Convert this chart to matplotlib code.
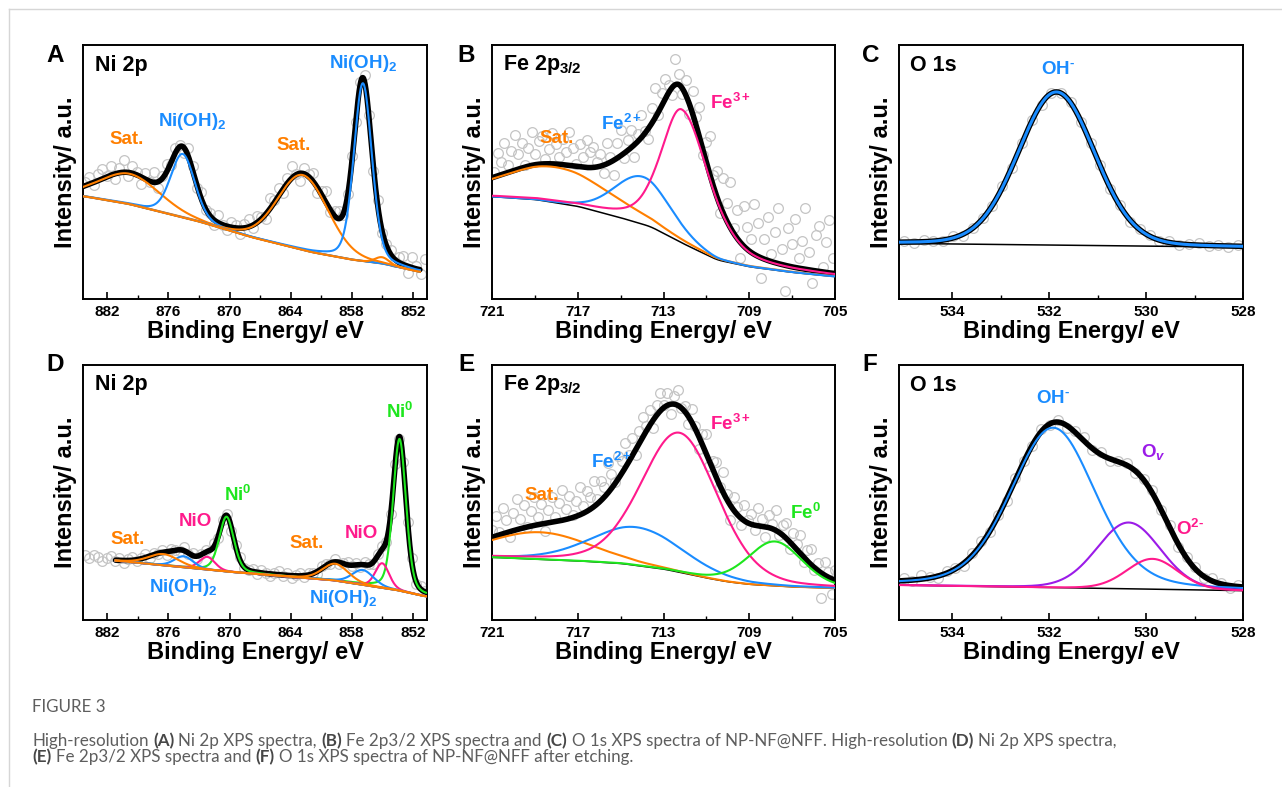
import numpy as np
import matplotlib
matplotlib.use("Agg")
import matplotlib.pyplot as plt
from matplotlib.lines import Line2D
from matplotlib.ticker import FixedLocator

plt.rcParams["font.family"] = ["Liberation Sans", "DejaVu Sans"]
plt.rcParams["mathtext.fontset"] = "custom"
plt.rcParams["mathtext.rm"] = "Liberation Sans:bold"
plt.rcParams["mathtext.bf"] = "Liberation Sans:bold"
plt.rcParams["mathtext.it"] = "Liberation Sans:bold:italic"

# ---- data (intensity in % of axis height) ----
# A: Ni 2p (NP-NF@NFF)
A_ticks = [882, 876, 870, 864, 858, 852]
A_bg_e = [884.4, 880, 873, 868, 862, 858, 855, 850.6]
A_bg_v = [40.5, 37.5, 30.5, 24.5, 18.5, 15.5, 14.0, 10.0]
A_centers = [879.8, 874.6, 862.8, 856.9, 855.0]
A_heights = [12, 25, 29.5, 70, 2.5]
A_fwhm = [7.0, 2.8, 5.8, 2.1, 1.6]
A_eta = [0.1, 0.2, 0.1, 0.25, 0.0]
A_species = ["sat", "oh", "sat", "oh", "sat"]
A_noise = [1.5, 3.0, -1.0, 2.5, 4.0, 0.5, 3.5, -2.0, 2.0, 5.0,
           -1.5, 3.0, 1.0, -3.0, 2.5, -0.5, 4.0, -2.5, 1.0, 3.0,
           -1.0, 2.0, 0.5, -2.0, 3.5, 1.5, -1.0, 2.5, -0.5, 1.0,
           -2.0, 3.0, 0.0, -1.5, 2.0, 1.0, -2.5, 1.5, 3.0, -1.0,
           2.5, 0.5, -2.0, 4.0, 1.0, 3.0, -1.5, 2.0, 5.0, 0.5,
           -3.0, 2.5, 1.0, 3.5, -2.0, 1.5, 4.5, -1.0, 2.0, 3.0,
           -0.5, 1.0, 2.5, -1.5, 0.5, 3.0, 1.0, -2.0, 2.0, -1.0,
           0.5, 1.5, -1.0, 2.0, 3.5, -2.5, 4.0, 1.0, -1.5, 5.0]

# B: Fe 2p3/2 (NP-NF@NFF)
B_ticks = [721, 717, 713, 709, 705]
B_bg_e = [721, 719, 717, 715, 713.6, 712.1, 710.5, 709, 707, 705]
B_bg_v = [40.3, 39.2, 36.5, 32, 28.5, 21.9, 15.4, 12.7, 10.5, 8.8]
B_centers = [718.0, 713.97, 712.15]
B_heights = [14, 18.7, 52.5]
B_fwhm = [6.0, 3.1, 2.3]
B_eta = [0.2, 0.1, 0.45]
B_asym = [1.0, 1.0, 1.3]
B_species = ["sat", "fe2", "fe3"]
B_noise = [2, 9, 5, 12, 3, 8, 14, 6, 10, 1, 7, 13, 4, 9, 11, 2, 6, 12, 8, 3,
           10, 5, 13, 7, 1, 9, 4, 11, 6, 8, 2,
           5, -3, 8, 2, -6, 6, 10, -2, 4, 7, -5, 3, 9, 1, -4, 6, 12, -1, 5, 8,
           3, -3, 10, 4, -2,
           6, -4, 9, 3, 12, -2, 8, 15, 4, 10, -3, 14, 7, 18, 2, 11, -6, 16, 9, 5,
           20, 13, -8, 8, 17, 3, 12, 22, 6, -10, 15, 9, 19, 4, 11, 24, 7, -5, 14, 18,
           2, 12, 21, 6]

# C: O 1s (NP-NF@NFF)
C_ticks = [534, 532, 530, 528]
C_bg_e = [535.1, 528]
C_bg_v = [21.9, 20.4]
C_centers = [531.85]
C_heights = [60.3]
C_fwhm = [1.86]
C_eta = [0.1]
C_species = ["oh"]
C_noise = [0.3, -0.5, 0.6, 0.1, -0.3, 0.8, -0.6, 0.2, 0.5, -0.2, 0.7, -0.4,
           0.1, 0.6, -0.7, 0.3, -0.1, 0.5, -0.5, 0.2, 0.8, -0.3, 0.4, -0.6,
           0.1, 0.6, -0.2, 0.4, -0.5, 0.3, 0.7, -0.1, 0.2, -0.4, 0.5]

# D: Ni 2p after etching
D_bg_e = [884.4, 881.2, 870, 860, 853.6, 850.7]
D_bg_v = [24.8, 23.3, 18.9, 15.7, 11.8, 9.2]
D_centers = [853.3, 870.3, 855.0, 872.2, 856.9, 874.5, 859.6, 876.5]
D_heights = [59.5, 21.5, 9.6, 5.0, 5.8, 4.3, 6.6, 4.4]
D_fwhm = [1.5, 1.7, 1.6, 1.8, 2.5, 2.2, 3.0, 3.5]
D_eta = [0.3, 0.3, 0.2, 0.2, 0.2, 0.2, 0.2, 0.2]
D_species = ["ni0", "ni0", "nio", "nio", "oh", "oh", "sat", "sat"]
D_noise = [0.8, -0.5, 1.2, 0.3, -1.0, 0.6, 1.5, -0.4, 0.9, -1.2,
           0.4, 1.1, -0.7, 0.2, 1.4, -0.9, 0.5, -0.3, 1.0, -1.1,
           0.7, 0.1, -0.6, 1.3, -0.2, 0.8, -1.0, 0.4, 0.9, -0.5,
           1.2, -0.8, 0.3, 0.6, -1.3, 0.5, 1.0, -0.4, 0.2, 0.9,
           -0.7, 1.1, 0.3, -0.9, 0.6, 1.4, -0.2, 0.8, -1.1, 0.4,
           1.0, -0.6, 0.7, 0.2, -1.2, 0.9, 0.5, -0.3, 1.3, -0.8,
           0.4, 1.0, -0.5, 0.6, -1.0, 1.2, 0.3, -0.7, 0.8, 1.5,
           -0.4, 0.9, 2.0, -1.0, 1.6, 0.5, 2.2, -0.8, 1.2, 0.6]

# E: Fe 2p3/2 after etching
E_bg_e = [721, 717, 715, 713, 712, 711, 710, 709, 707, 705]
E_bg_v = [24.6, 23.2, 22.2, 20, 18.3, 16.5, 15, 14, 13, 12.5]
E_centers = [718.76, 714.25, 712.25, 707.8]
E_heights = [10.6, 15, 54.7, 17.4]
E_fwhm = [5.6, 5.0, 4.2, 3.0]
E_eta = [0.1, 0.2, 0.2, 0.2]
E_species = ["sat", "fe2", "fe3", "fe0"]
E_noise = [3, 8, 1, 10, 5, -2, 7, 12, 4, 9, 0, 6, 11, 3, 8, -3, 5, 10, 2, 7,
           12, 4, 9, 1, 6, 11, 3, 8, 5, 10, 2,
           8, 4, 12, 6, 1, 9, 5, 10, 3, 7, -2, 5, 8, 2, 6, -3, 4, 7, 1,
           5, -4, 3, 6, 0,
           2, -3, 5, 1, -5, 4, 7, -2, 3, 6, -1, 8, 2, -6, 5, 3, -3, 6, 1, 4,
           -2, 7, 3, -4, 5, 2, 8, -1, 4, 6, -3, 5, 2, 7, -2, 4, 6, -1, 3, -10,
           5, 2, -6, 4]

# F: O 1s after etching
F_bg_e = [535.1, 528]
F_bg_v = [13.7, 11.5]
F_centers = [531.92, 530.36, 529.87]
F_heights = [62.7, 26, 11.9]
F_fwhm = [2.06, 1.55, 1.25]
F_eta = [0.25, 0.1, 0.1]
F_species = ["oh", "ov", "o2"]
F_noise = [1.2, -0.5, 1.5, 0.4, -0.8, 1.0, 0.2, -1.2, 0.8, 1.4,
           -0.3, 0.6, -1.0, 0.9, 0.3, -0.6, 1.1, -0.2, 0.7, -1.1,
           0.5, 1.3, -0.4, 0.8, -0.9, 0.2, 1.0, -0.7, 0.6, 1.2,
           -0.3, 0.9, -1.0, 0.4, 0.7, -0.5, 1.1, 0.3, -0.8, 0.5]

colors = {"sat": "#FF7F00", "oh": "#1A8CFF", "fe2": "#1A8CFF", "fe3": "#FF1A8C",
          "nio": "#FF1A8C", "o2": "#FF1A8C", "ni0": "#1EE61E", "fe0": "#1EE61E",
          "ov": "#9B1BE8"}

W, H = 1282, 787
fig = plt.figure(figsize=(W / 100, H / 100), dpi=100)


def pv(x, c, h, w, eta, asym=1.0):
    # pseudo-Voigt; asym widens the low binding energy side
    w = np.where(x < c, w * asym, w)
    d = (x - c) / w
    return h * ((1 - eta) * np.exp(-4 * np.log(2) * d ** 2) + eta / (1 + 4 * d ** 2))


def bg_line(x, be, bv, smooth=True):
    be = np.array(be, float)
    bv = np.array(bv, float)
    o = np.argsort(be)
    y = np.interp(x, be[o], bv[o])
    if not smooth:
        return y
    k = np.ones(31) / 31
    return np.convolve(np.pad(y, 15, mode="edge"), k, mode="valid")


def add_axes_px(l, t, r, b):
    return fig.add_axes([l / W, 1 - b / H, (r - l) / W, (b - t) / H])


def panel(ax, xlim, ticks, minors, fit_rng, pts_rng, bg_e, bg_v, centers, heights,
          fwhm, eta, species, noise, asym=None, comp_lw=1.5):
    if asym is None:
        asym = [1.0] * len(centers)
    x = np.linspace(fit_rng[0], fit_rng[1], 900)
    bg = bg_line(x, bg_e, bg_v)
    total = bg.copy()
    comps = []
    for i in range(len(centers)):
        p = pv(x, centers[i], heights[i], fwhm[i], eta[i], asym[i])
        total = total + p
        comps.append((bg + p, colors[species[i]]))

    # raw data circles
    xp = np.linspace(pts_rng[0], pts_rng[1], len(noise))
    yp = bg_line(xp, bg_e, bg_v, smooth=False)
    for i in range(len(centers)):
        yp = yp + pv(xp, centers[i], heights[i], fwhm[i], eta[i], asym[i])
    yp = yp + np.array(noise)
    ax.plot(xp, yp, "o", mfc="none", mec="#c4c4c4", ms=7, mew=0.9, zorder=1)

    ax.plot(x, bg, color="k", lw=1.1, zorder=2)
    ax.plot(x, total, color="k", lw=4.0, solid_capstyle="round", zorder=3)
    for y, c in comps:
        ax.plot(x, y, color=c, lw=comp_lw, zorder=4)

    ax.set_xlim(*xlim)
    ax.set_ylim(0, 100)
    ax.set_yticks([])
    ax.xaxis.set_major_locator(FixedLocator(ticks))
    ax.xaxis.set_minor_locator(FixedLocator(minors))
    ax.tick_params(axis="x", which="both", direction="in", top=False, pad=4,
                   labelsize=11)
    ax.tick_params(axis="x", which="major", length=5, width=1.2)
    ax.tick_params(axis="x", which="minor", length=3, width=1.0)
    for lab in ax.get_xticklabels():
        lab.set_fontweight("bold")
    for s in ax.spines.values():
        s.set_linewidth(1.4)
    ax.set_xlabel("Binding Energy/ eV", fontsize=17, fontweight="bold", labelpad=1)
    ax.set_ylabel("Intensity/ a.u.", fontsize=17, fontweight="bold", labelpad=4)


def label(ax, fx, fy, s, c, size=13.5, ha="center"):
    ax.text(fx, fy, s, transform=ax.transAxes, color=c, fontsize=size,
            fontweight="bold", ha=ha, va="center", zorder=6)


Ni_minor = [879, 873, 867, 861, 855]
Fe_minor = [719, 715, 711, 707]
O_minor = [533, 531, 529]

axA = add_axes_px(83, 45, 427, 299)
panel(axA, (884.4, 850.6), A_ticks, Ni_minor, (884.4, 851.3), (884.2, 850.8),
      A_bg_e, A_bg_v, A_centers, A_heights, A_fwhm, A_eta, A_species, A_noise)
label(axA, 0.035, 0.921, "Ni 2p", "k", 15.5, "left")
label(axA, 0.815, 0.928, r"Ni(OH)$_\mathbf{2}$", colors["oh"])
label(axA, 0.318, 0.698, r"Ni(OH)$_\mathbf{2}$", colors["oh"])
label(axA, 0.127, 0.626, "Sat.", colors["sat"])
label(axA, 0.611, 0.606, "Sat.", colors["sat"])

axB = add_axes_px(492, 45, 835, 299)
panel(axB, (721, 705), B_ticks, Fe_minor, (721, 705), (720.9, 705.1),
      B_bg_e, B_bg_v, B_centers, B_heights, B_fwhm, B_eta, B_species, B_noise,
      asym=B_asym)
label(axB, 0.033, 0.921, r"Fe 2p$_{\mathbf{3/2}}$", "k", 15.5, "left")
label(axB, 0.189, 0.633, "Sat.", colors["sat"])
label(axB, 0.378, 0.690, r"Fe$^{\mathbf{2+}}$", colors["fe2"])
label(axB, 0.694, 0.770, r"Fe$^{\mathbf{3+}}$", colors["fe3"])

axC = add_axes_px(899, 45, 1243, 299)
panel(axC, (535.1, 528), C_ticks, O_minor, (535.1, 528), (535.0, 528.1),
      C_bg_e, C_bg_v, C_centers, C_heights, C_fwhm, C_eta, C_species, C_noise,
      comp_lw=2.2)
label(axC, 0.032, 0.921, "O 1s", "k", 15.5, "left")
label(axC, 0.463, 0.905, r"OH$^{\text{-}}$", colors["oh"])

axD = add_axes_px(83, 365, 427, 620)
panel(axD, (884.4, 850.6), A_ticks, Ni_minor, (881.2, 850.7), (884.2, 850.8),
      D_bg_e, D_bg_v, D_centers, D_heights, D_fwhm, D_eta, D_species, D_noise)
label(axD, 0.035, 0.922, "Ni 2p", "k", 15.5, "left")
label(axD, 0.922, 0.815, r"Ni$^{\mathbf{0}}$", colors["ni0"])
label(axD, 0.451, 0.490, r"Ni$^{\mathbf{0}}$", colors["ni0"])
label(axD, 0.326, 0.386, "NiO", colors["nio"])
label(axD, 0.810, 0.340, "NiO", colors["nio"])
label(axD, 0.129, 0.314, "Sat.", colors["sat"])
label(axD, 0.650, 0.300, "Sat.", colors["sat"])
label(axD, 0.290, 0.128, r"Ni(OH)$_\mathbf{2}$", colors["oh"])
label(axD, 0.757, 0.085, r"Ni(OH)$_\mathbf{2}$", colors["oh"])

axE = add_axes_px(492, 365, 835, 620)
panel(axE, (721, 705), B_ticks, Fe_minor, (721, 705), (721, 705),
      E_bg_e, E_bg_v, E_centers, E_heights, E_fwhm, E_eta, E_species, E_noise)
label(axE, 0.033, 0.921, r"Fe 2p$_{\mathbf{3/2}}$", "k", 15.5, "left")
label(axE, 0.349, 0.620, r"Fe$^{\mathbf{2+}}$", colors["fe2"])
label(axE, 0.694, 0.770, r"Fe$^{\mathbf{3+}}$", colors["fe3"])
label(axE, 0.145, 0.490, "Sat.", colors["sat"])
label(axE, 0.913, 0.418, r"Fe$^{\mathbf{0}}$", colors["fe0"])

axF = add_axes_px(899, 365, 1243, 620)
panel(axF, (535.1, 528), C_ticks, O_minor, (535.1, 528), (535.0, 528.1),
      F_bg_e, F_bg_v, F_centers, F_heights, F_fwhm, F_eta, F_species, F_noise)
label(axF, 0.032, 0.921, "O 1s", "k", 15.5, "left")
label(axF, 0.448, 0.868, r"OH$^{\text{-}}$", colors["oh"])
label(axF, 0.739, 0.660, r"O$_{\mathit{v}}$", colors["ov"])
label(axF, 0.846, 0.358, r"O$^{\mathbf{2}\text{-}}$", colors["o2"])

# panel letters
for s, (px, py) in zip("ABCDEF", [(55, 55), (466, 55), (871, 55),
                                  (55, 364), (466, 364), (870, 364)]):
    fig.text(px / W, 1 - py / H, s, fontsize=17.5, fontweight="bold",
             ha="center", va="center")

# light frame lines of the page
fig.add_artist(Line2D([9 / W, 1], [1 - 9 / H, 1 - 9 / H], color="#d6d6d6", lw=1.0,
                      transform=fig.transFigure))
fig.add_artist(Line2D([9 / W, 9 / W], [0, 1 - 9 / H], color="#d6d6d6", lw=1.0,
                      transform=fig.transFigure))

# caption
renderer = fig.canvas.get_renderer()
cap_font = ["Lato", "DejaVu Sans"]
cap_grey = "#5e5e5e"
cap_dark = "#474747"

line1 = [("High-resolution ", False), ("(A)", True), (" Ni 2p XPS spectra, ", False),
         ("(B)", True), (" Fe 2p3/2 XPS spectra and ", False), ("(C)", True),
         (" O 1s XPS spectra of NP-NF@NFF. High-resolution ", False), ("(D)", True),
         (" Ni 2p XPS spectra,", False)]
line2 = [("(E)", True), (" Fe 2p3/2 XPS spectra and ", False), ("(F)", True),
         (" O 1s XPS spectra of NP-NF@NFF after etching.", False)]


def text_w(s, size, bold):
    t = fig.text(0, 0, s, fontsize=size, family=cap_font,
                 fontweight="bold" if bold else "normal")
    w = t.get_window_extent(renderer).width
    t.remove()
    return w


def piece_w(s, size, bold):
    sp = text_w("a a", size, False) - text_w("aa", size, False)
    core = s.strip()
    n_sp = len(s) - len(s.lstrip()) + len(s) - len(s.rstrip())
    return text_w(core, size, bold) + n_sp * sp, len(s) - len(s.lstrip()), sp


def draw_line(pieces, x0, y, size):
    x = x0
    for s, bold in pieces:
        w, lead, sp = piece_w(s, size, bold)
        fig.text((x + lead * sp) / W, 1 - y / H, s.strip(), fontsize=size,
                 family=cap_font, fontweight="bold" if bold else "normal",
                 color=cap_dark if bold else cap_grey, ha="left", va="center")
        x += w
    return x


size0 = 12.0
total_w = sum(piece_w(s, size0, b)[0] for s, b in line1)
cap_size = size0 * 1080 / total_w
fig.text(32 / W, 1 - 707 / H, "FIGURE 3", fontsize=cap_size, family=cap_font,
         color=cap_grey, ha="left", va="center")
draw_line(line1, 32, 741, cap_size)
draw_line(line2, 32, 757, cap_size)

fig.savefig("out.png", dpi=100)
